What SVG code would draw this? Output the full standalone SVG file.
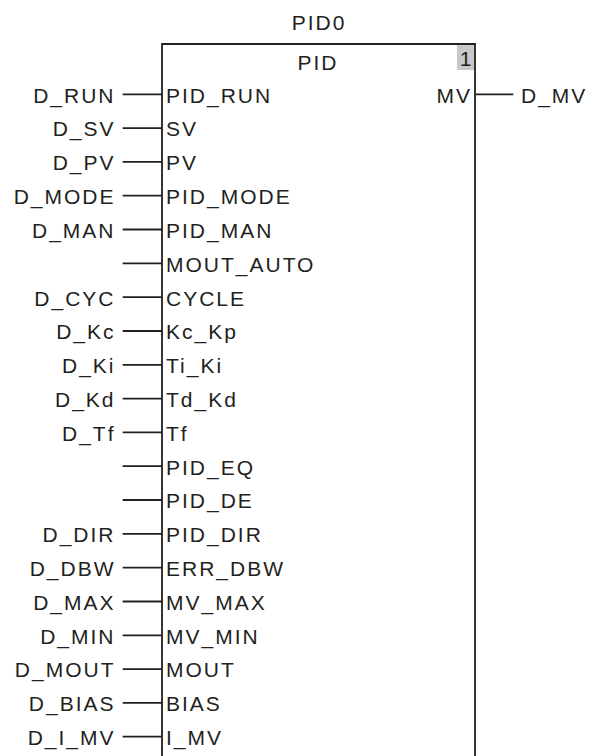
<svg xmlns="http://www.w3.org/2000/svg" width="592" height="756" viewBox="0 0 592 756">
<style>
text{font-family:"Liberation Sans",Arial,sans-serif;font-size:21px;letter-spacing:2px;fill:#231f20}
.l{text-anchor:end}
.w{stroke:#231f20;stroke-width:1.8;fill:none}
</style>
<rect width="592" height="756" fill="#fff"/>
<g id="block">
<text x="319" y="29.5" text-anchor="middle">PID0</text>
<path class="w" d="M162,757V44H475V757"/>
<rect x="457" y="45" width="17" height="25" fill="#c8c8c8"/>
<text x="318" y="69.5" text-anchor="middle">PID</text>
<text x="465.5" y="66" text-anchor="middle" style="letter-spacing:0">1</text>
<text x="472" y="102.5" class="l">MV</text>
<text x="166" y="102.6">PID_RUN</text>
<text x="166" y="136.4">SV</text>
<text x="166" y="170.2">PV</text>
<text x="166" y="204.0">PID_MODE</text>
<text x="166" y="237.8">PID_MAN</text>
<text x="166" y="271.6">MOUT_AUTO</text>
<text x="166" y="305.5">CYCLE</text>
<text x="166" y="339.3">Kc_Kp</text>
<text x="166" y="373.1">Ti_Ki</text>
<text x="166" y="406.9">Td_Kd</text>
<text x="166" y="440.7">Tf</text>
<text x="166" y="474.5">PID_EQ</text>
<text x="166" y="508.3">PID_DE</text>
<text x="166" y="542.1">PID_DIR</text>
<text x="166" y="575.9">ERR_DBW</text>
<text x="166" y="609.8">MV_MAX</text>
<text x="166" y="643.6">MV_MIN</text>
<text x="166" y="677.4">MOUT</text>
<text x="166" y="711.2">BIAS</text>
<text x="166" y="745.0">I_MV</text>
</g>
<g id="vars">
<text x="115.5" y="102.6" class="l">D_RUN</text>
<text x="115.5" y="136.4" class="l">D_SV</text>
<text x="115.5" y="170.2" class="l">D_PV</text>
<text x="115.5" y="204.0" class="l">D_MODE</text>
<text x="115.5" y="237.8" class="l">D_MAN</text>
<text x="115.5" y="305.5" class="l">D_CYC</text>
<text x="115.5" y="339.3" class="l">D_Kc</text>
<text x="115.5" y="373.1" class="l">D_Ki</text>
<text x="115.5" y="406.9" class="l">D_Kd</text>
<text x="115.5" y="440.7" class="l">D_Tf</text>
<text x="115.5" y="542.1" class="l">D_DIR</text>
<text x="115.5" y="575.9" class="l">D_DBW</text>
<text x="115.5" y="609.8" class="l">D_MAX</text>
<text x="115.5" y="643.6" class="l">D_MIN</text>
<text x="115.5" y="677.4" class="l">D_MOUT</text>
<text x="115.5" y="711.2" class="l">D_BIAS</text>
<text x="115.5" y="745.0" class="l">D_I_MV</text>
<text x="521" y="102.5">D_MV</text>
</g>
<g id="connectors" class="w">
<path d="M122.7,94.3H162M122.7,128.1H162M122.7,161.9H162M122.7,195.7H162M122.7,229.5H162M122.7,263.3H162M122.7,297.2H162M122.7,331H162M122.7,364.8H162M122.7,398.6H162M122.7,432.4H162M122.7,466.2H162M122.7,500H162M122.7,533.8H162M122.7,567.6H162M122.7,601.5H162M122.7,635.3H162M122.7,669.1H162M122.7,702.9H162M122.7,736.7H162"/>
<path d="M475,94.3H513.3"/>
</g>
</svg>
